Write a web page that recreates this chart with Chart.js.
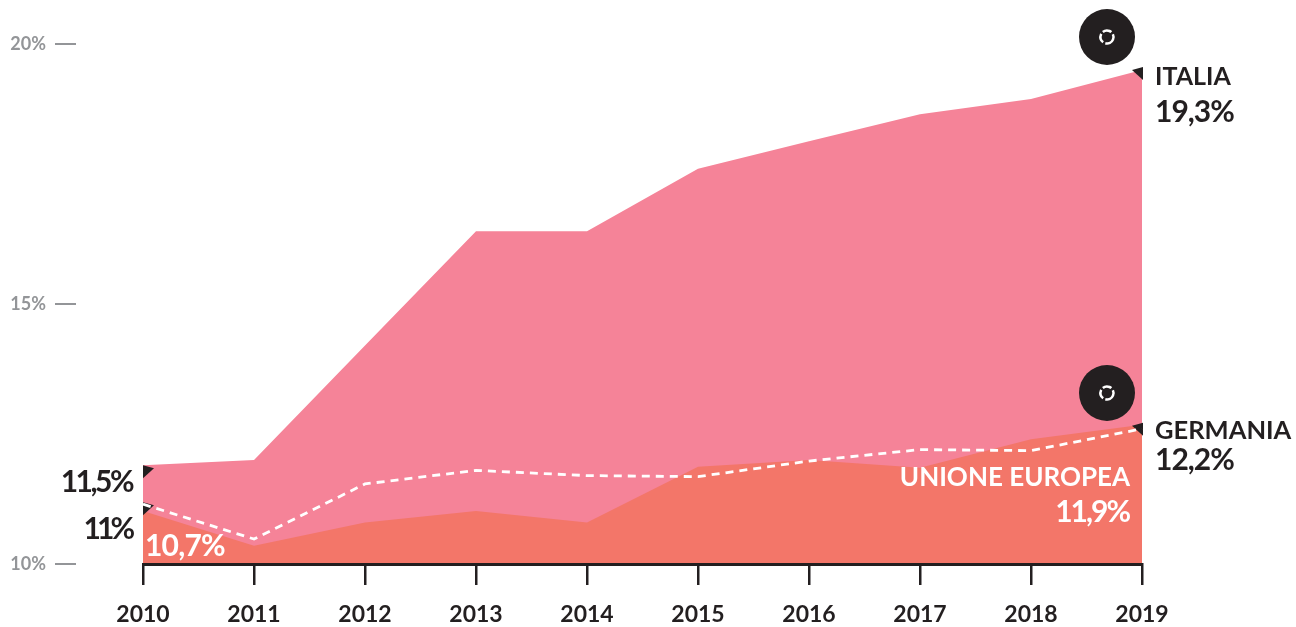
<!DOCTYPE html>
<html>
<head>
<meta charset="utf-8">
<style>
  html, body { margin: 0; padding: 0; background: #fff; }
  #wrap { position: relative; width: 1296px; height: 627px; }
</style>
<script src="https://cdn.jsdelivr.net/npm/chart.js@4"></script>
</head>
<body>
<div id="wrap"><canvas id="chart"></canvas></div>
<script>
  // Data
  const years = ['2010', '2011', '2012', '2013', '2014', '2015', '2016', '2017', '2018', '2019'];
  const italia = [11.9, 12.0, 14.2, 16.4, 16.4, 17.6, 18.13, 18.65, 18.94, 19.5];
  const germania = [11.02, 10.35, 10.8, 11.02, 10.8, 11.87, 12.0, 11.85, 12.4, 12.68];
  const unione = [11.15, 10.48, 11.54, 11.8, 11.7, 11.68, 11.98, 12.2, 12.18, 12.6];
  const yTicks = [10, 15, 20];

  const INK = '#231f20';
  const GREY = '#939598';
  const PINK = '#f58398';
  const CORAL = '#f37669';
  const FONT = 'Lato, sans-serif';

  // Callouts, triangles, badges and the little y tick dashes
  const annotations = {
    id: 'annotations',
    // corner triangles sit over the areas but under the dashed line (dataset 0, drawn last)
    beforeDatasetDraw: function (chart, args) {
      if (args.index !== 0) return;
      const ctx = chart.ctx;
      const x = chart.scales.x;
      const y = chart.scales.y;
      const first = x.getPixelForValue(0);
      const last = x.getPixelForValue(9);

      function tri(px, py, dir) {
        ctx.fillStyle = INK;
        ctx.beginPath();
        ctx.moveTo(px, py - 3);
        ctx.lineTo(px + dir * 11, py);
        ctx.lineTo(px, py + 10);
        ctx.closePath();
        ctx.fill();
      }
      ctx.save();
      tri(last + 1, y.getPixelForValue(italia[9]), -1);
      tri(last + 1, y.getPixelForValue(germania[9]) + 1, -1);
      tri(first, y.getPixelForValue(italia[0]) + 3, 1);
      tri(first, y.getPixelForValue(unione[0]) + 1, 1);
      ctx.restore();
    },
    afterDatasetsDraw: function (chart) {
      const ctx = chart.ctx;
      const y = chart.scales.y;

      ctx.save();

      // y tick dashes
      ctx.strokeStyle = GREY;
      ctx.lineWidth = 2;
      yTicks.forEach(function (t) {
        const py = y.getPixelForValue(t);
        ctx.beginPath();
        ctx.moveTo(55, py);
        ctx.lineTo(76, py);
        ctx.stroke();
      });

      // round badges
      [37, 393].forEach(function (cy) {
        ctx.fillStyle = INK;
        ctx.beginPath();
        ctx.arc(1107, cy, 28, 0, Math.PI * 2);
        ctx.fill();
        ctx.strokeStyle = '#fff';
        ctx.lineWidth = 2.5;
        ctx.setLineDash([9, 2.5]);
        ctx.beginPath();
        ctx.arc(1107, cy, 6.5, 0.4, 0.4 + Math.PI * 2);
        ctx.stroke();
        ctx.setLineDash([]);
      });

      // texts
      function label(text, px, py, size, color, align, spacing) {
        ctx.font = 'bold ' + size + 'px ' + FONT;
        ctx.letterSpacing = (spacing || 0) + 'px';
        ctx.fillStyle = color;
        ctx.textAlign = align;
        ctx.textBaseline = 'alphabetic';
        ctx.fillText(text, px, py);
      }
      label('ITALIA', 1155, 85, 25, INK, 'left');
      label('19,3%', 1155, 122, 30, INK, 'left', -1);
      label('GERMANIA', 1155, 439, 25.5, INK, 'left');
      label('12,2%', 1155, 470, 30, INK, 'left', -1);
      label('UNIONE EUROPEA', 1130, 486, 26, '#fff', 'right');
      label('11,9%', 1129, 522, 30, '#fff', 'right', -2);
      label('11,5%', 132, 492, 30, INK, 'right', -2.5);
      label('11%', 131, 539, 30, INK, 'right', -4);
      label('10,7%', 145, 556, 30, '#fff', 'left', -0.8);

      ctx.restore();
    }
  };

  new Chart(document.getElementById('chart'), {
    type: 'line',
    data: {
      labels: years,
      datasets: [
        {
          label: 'Unione Europea',
          data: unione,
          borderColor: '#fff',
          borderWidth: 2.8,
          borderDash: [8, 6],
          fill: false,
          order: 1
        },
        {
          label: 'Germania',
          data: germania,
          borderWidth: 0,
          backgroundColor: CORAL,
          fill: 'start',
          order: 2
        },
        {
          label: 'Italia',
          data: italia,
          borderWidth: 0,
          backgroundColor: PINK,
          fill: 'start',
          order: 3
        }
      ]
    },
    options: {
      responsive: true,
      maintainAspectRatio: false,
      animation: false,
      elements: { point: { radius: 0 }, line: { tension: 0 } },
      layout: { padding: { top: 44, right: 154, bottom: 0, left: 0 } },
      plugins: { legend: { display: false }, tooltip: { enabled: false } },
      scales: {
        x: {
          offset: false,
          afterFit: function (scale) {
            scale.height = 63;
            scale.paddingLeft = 0;
            scale.paddingRight = 0;
          },
          border: { color: INK, width: 3, z: 2 },
          grid: { drawOnChartArea: false, color: INK, lineWidth: 2.5, tickLength: 21 },
          ticks: {
            color: INK,
            padding: 16,
            maxRotation: 0,
            autoSkip: false,
            font: { family: FONT, size: 23, weight: 'bold' }
          }
        },
        y: {
          min: 10,
          max: 20,
          afterFit: function (scale) {
            // keep the wide tick padding from pushing the plot area in
            scale.width = 143;
            scale.paddingTop = 0;
            scale.paddingBottom = 0;
          },
          afterBuildTicks: function (scale) {
            scale.ticks = yTicks.map(function (v) { return { value: v }; });
          },
          border: { display: false },
          grid: { display: false },
          ticks: {
            color: GREY,
            padding: 89,
            callback: function (v) { return v + '%'; },
            font: { family: FONT, size: 18, weight: 'bold' }
          }
        }
      }
    },
    plugins: [annotations]
  });
</script>
</body>
</html>
